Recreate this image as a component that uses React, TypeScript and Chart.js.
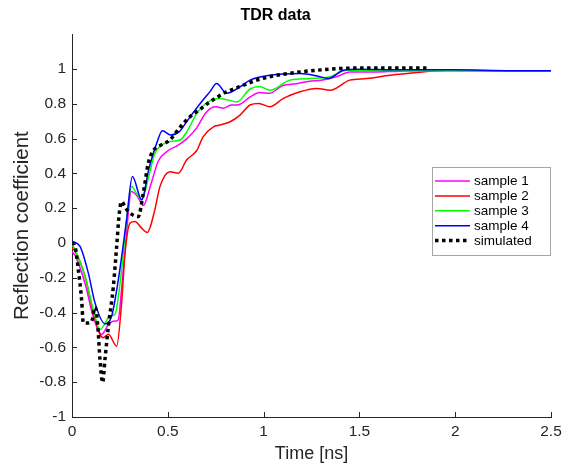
import React, { useEffect, useRef } from "react";
import { Chart, registerables } from "chart.js";

Chart.register(...registerables);

const FONT = "'Liberation Sans', Arial, Helvetica, sans-serif";
const TEXT = "#262626";

const xTicks = [0, 0.5, 1, 1.5, 2, 2.5];
const yTicks = [-1, -0.8, -0.6, -0.4, -0.2, 0, 0.2, 0.4, 0.6, 0.8, 1];

const seriesNames = ["sample 1", "sample 2", "sample 3", "sample 4", "simulated"];
const seriesColors = ["#ff00ff", "#ff0000", "#00ff00", "#0000ff", "#000000"];

// sample 1 (magenta)
const t1 = [0, 0.02, 0.07, 0.11, 0.155, 0.19, 0.215, 0.24, 0.26, 0.285, 0.31, 0.34, 0.372, 0.41, 0.45, 0.5, 0.55, 0.6, 0.65, 0.7, 0.75, 0.79, 0.83, 0.87, 0.93, 0.98, 1.03, 1.1, 1.17, 1.24, 1.3, 1.38, 1.45, 1.55, 1.65, 1.8, 2.0, 2.2, 2.5];
const v1 = [-0.048, -0.08, -0.24, -0.42, -0.525, -0.47, -0.45, -0.445, -0.25, 0.066, 0.296, 0.27, 0.215, 0.33, 0.47, 0.53, 0.56, 0.6, 0.66, 0.75, 0.783, 0.774, 0.793, 0.795, 0.84, 0.865, 0.86, 0.905, 0.915, 0.93, 0.935, 0.955, 0.983, 0.983, 0.985, 0.99, 0.99, 0.99, 0.99];

// sample 2 (red)
const t2 = [0, 0.016, 0.068, 0.111, 0.146, 0.163, 0.19, 0.233, 0.259, 0.277, 0.303, 0.329, 0.36, 0.393, 0.43, 0.459, 0.511, 0.555, 0.598, 0.65, 0.685, 0.738, 0.772, 0.825, 0.877, 0.929, 0.975, 1.033, 1.103, 1.19, 1.277, 1.347, 1.45, 1.538, 1.66, 1.8, 1.955, 2.2, 2.5];
const v2 = [-0.029, -0.048, -0.191, -0.4, -0.525, -0.544, -0.525, -0.593, -0.344, -0.057, 0.115, 0.124, 0.09, 0.061, 0.18, 0.324, 0.41, 0.401, 0.477, 0.53, 0.611, 0.668, 0.678, 0.697, 0.735, 0.793, 0.802, 0.783, 0.831, 0.869, 0.888, 0.878, 0.936, 0.945, 0.964, 0.98, 0.993, 0.99, 0.99];

// sample 3 (green)
const t3 = [0, 0.016, 0.068, 0.111, 0.146, 0.2, 0.224, 0.259, 0.285, 0.311, 0.34, 0.364, 0.4, 0.433, 0.468, 0.52, 0.564, 0.6, 0.651, 0.703, 0.772, 0.86, 0.929, 0.98, 1.033, 1.138, 1.242, 1.347, 1.434, 1.61, 1.8, 2.0, 2.5];
const v3 = [-0.01, -0.038, -0.191, -0.382, -0.497, -0.42, -0.41, -0.153, 0.134, 0.324, 0.28, 0.248, 0.38, 0.516, 0.563, 0.585, 0.592, 0.64, 0.745, 0.806, 0.831, 0.811, 0.885, 0.9, 0.878, 0.936, 0.945, 0.955, 0.993, 0.993, 0.99, 0.99, 0.99];

// sample 4 (blue)
const t4 = [0, 0.042, 0.085, 0.12, 0.172, 0.207, 0.242, 0.285, 0.315, 0.364, 0.4, 0.442, 0.472, 0.515, 0.56, 0.6, 0.668, 0.72, 0.755, 0.807, 0.877, 0.929, 1.033, 1.19, 1.28, 1.338, 1.416, 1.503, 1.7, 2.0, 2.3, 2.5];
const v4 = [0.01, -0.02, -0.172, -0.344, -0.464, -0.42, -0.21, 0.134, 0.382, 0.248, 0.42, 0.573, 0.645, 0.62, 0.64, 0.7, 0.8, 0.87, 0.917, 0.86, 0.897, 0.936, 0.964, 0.974, 0.96, 0.945, 0.993, 0.999, 0.995, 0.995, 0.99, 0.99];

// simulated (black dotted)
const tS = [0, 0.016, 0.033, 0.05, 0.059, 0.08, 0.103, 0.12, 0.128, 0.137, 0.146, 0.16, 0.172, 0.19, 0.216, 0.233, 0.247, 0.259, 0.28, 0.303, 0.346, 0.372, 0.398, 0.424, 0.46, 0.511, 0.56, 0.616, 0.67, 0.72, 0.807, 0.88, 0.964, 1.05, 1.19, 1.3, 1.4, 1.6, 1.85];
const vS = [0, -0.02, -0.153, -0.325, -0.458, -0.46, -0.449, -0.37, -0.4, -0.516, -0.669, -0.802, -0.669, -0.478, -0.249, -0.02, 0.172, 0.238, 0.2, 0.172, 0.152, 0.287, 0.458, 0.53, 0.56, 0.592, 0.66, 0.726, 0.77, 0.811, 0.869, 0.9, 0.936, 0.96, 0.983, 0.995, 1.003, 1.006, 1.006];

const pts = (t: number[], v: number[]) => t.map((x, i) => ({ x, y: v[i] }));

const decorPlugin = {
  id: "matlabDecor",
  afterDatasetsDraw(chart: any) {
    const { ctx, chartArea, scales } = chart;
    ctx.save();
    ctx.strokeStyle = TEXT;
    ctx.lineWidth = 1;
    ctx.beginPath();
    xTicks.forEach((v) => {
      const px = Math.round(scales.x.getPixelForValue(v)) + 0.5;
      ctx.moveTo(px, chartArea.bottom);
      ctx.lineTo(px, chartArea.bottom - 5);
    });
    yTicks.forEach((v) => {
      const py = Math.round(scales.y.getPixelForValue(v)) + 0.5;
      ctx.moveTo(chartArea.left, py);
      ctx.lineTo(chartArea.left + 5, py);
    });
    ctx.stroke();
    ctx.restore();
  },
  afterDraw(chart: any) {
    const { ctx } = chart;
    const bx = 432.5, by = 167.5, bw = 118, bh = 88;
    ctx.save();
    ctx.fillStyle = "#ffffff";
    ctx.fillRect(bx, by, bw, bh);
    ctx.strokeStyle = "#a6a6a6";
    ctx.lineWidth = 1;
    ctx.strokeRect(bx, by, bw, bh);
    ctx.font = `13.5px ${FONT}`;
    ctx.textBaseline = "middle";
    ctx.textAlign = "left";
    seriesNames.forEach((name, i) => {
      const y = 181 + i * 14.9;
      ctx.strokeStyle = seriesColors[i];
      if (i === 4) {
        ctx.lineWidth = 3.5;
        ctx.setLineDash([3.5, 3.5]);
      } else {
        ctx.lineWidth = 1.5;
        ctx.setLineDash([]);
      }
      ctx.beginPath();
      ctx.moveTo(435, y);
      ctx.lineTo(470, y);
      ctx.stroke();
      ctx.fillStyle = "#000000";
      ctx.fillText(name, 474, y + 0.5);
    });
    ctx.restore();
  },
};

export default function App() {
  const ref = useRef<HTMLCanvasElement | null>(null);

  useEffect(() => {
    if (!ref.current) return;
    const data = [pts(t1, v1), pts(t2, v2), pts(t3, v3), pts(t4, v4), pts(tS, vS)];
    const chart = new Chart(ref.current, {
      type: "line",
      data: {
        datasets: data.map((d, i) => ({
          label: seriesNames[i],
          data: d,
          borderColor: seriesColors[i],
          backgroundColor: seriesColors[i],
          borderWidth: i === 4 ? 3.5 : 1.5,
          borderDash: i === 4 ? [3.5, 3.5] : [],
          pointRadius: 0,
          fill: false,
          cubicInterpolationMode: "monotone",
          order: 4 - i,
        })),
      },
      options: {
        animation: false,
        responsive: false,
        maintainAspectRatio: false,
        layout: { padding: { left: 0, right: 20, top: 0, bottom: 0 } },
        plugins: {
          legend: { display: false },
          tooltip: { enabled: false },
          title: {
            display: true,
            text: "TDR data",
            color: "#000000",
            font: { family: FONT, size: 16, weight: "bold" },
            padding: { top: 6, bottom: 9 },
          },
        },
        scales: {
          x: {
            type: "linear",
            min: 0,
            max: 2.5,
            afterBuildTicks: (s: any) => {
              s.ticks = xTicks.map((v) => ({ value: v }));
            },
            afterFit: (s: any) => {
              s.height = 48;
            },
            grid: { display: false, drawTicks: false },
            border: { display: true, color: TEXT, width: 1 },
            ticks: {
              color: TEXT,
              font: { family: FONT, size: 15.5 },
              padding: 5,
              maxRotation: 0,
              autoSkip: false,
              callback: (v: any) => String(Math.round(Number(v) * 10) / 10),
            },
            title: {
              display: true,
              text: "Time [ns]",
              color: TEXT,
              font: { family: FONT, size: 18 },
              padding: { top: 0, bottom: 0 },
            },
          },
          y: {
            type: "linear",
            min: -1,
            max: 1.2,
            afterBuildTicks: (s: any) => {
              s.ticks = yTicks.map((v) => ({ value: v }));
            },
            afterFit: (s: any) => {
              s.width = 72;
            },
            grid: { display: false, drawTicks: false },
            border: { display: true, color: TEXT, width: 1 },
            ticks: {
              color: TEXT,
              font: { family: FONT, size: 15.5 },
              padding: 6,
              autoSkip: false,
              callback: (v: any) => String(Math.round(Number(v) * 10) / 10),
            },
            title: {
              display: true,
              text: "Reflection coefficient",
              color: TEXT,
              font: { family: FONT, size: 20.5 },
              padding: { top: 10, bottom: 0 },
            },
          },
        },
      },
      plugins: [decorPlugin],
    } as any);
    return () => chart.destroy();
  }, []);

  return (
    <div style={{ position: "absolute", left: 0, top: 0, width: 571, height: 465, background: "#ffffff" }}>
      <canvas ref={ref} width={571} height={465} style={{ display: "block" }} />
    </div>
  );
}
